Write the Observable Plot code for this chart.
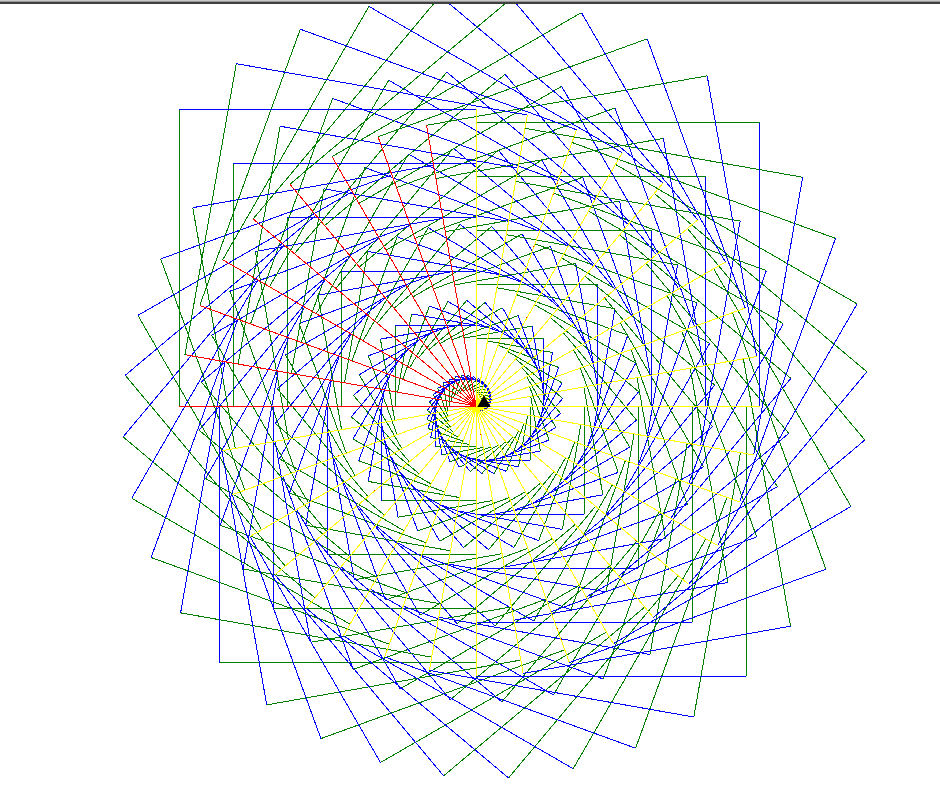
<!DOCTYPE html>
<html>
<head>
<meta charset="utf-8">
<script src="https://cdn.jsdelivr.net/npm/d3@7"></script>
<script src="https://cdn.jsdelivr.net/npm/@observablehq/plot@0.6"></script>
<style>
  html, body { margin: 0; padding: 0; background: #fff; overflow: hidden; }
  #wrap { position: relative; width: 940px; height: 793px; }
  #frame { position: absolute; left: 0; top: 0; width: 940px; height: 4px;
           background: linear-gradient(#c8c8c8 0, #c8c8c8 1px, #9a9a9a 1px, #9a9a9a 2px, #404040 2px, #404040 4px); }
  #wrap svg g[aria-label="link"] path { shape-rendering: crispEdges; }
</style>
</head>
<body>
<div id="wrap"><div id="frame"></div></div>
<script>
// Turtle program parameters
const squareCount = [199];             // squares drawn, i = 0..198
const sideStep = [1.5];                // side length grows by this per square
const turnAngle = [10];                // degrees turned left after each square
const cornerTurn = [90];               // degrees turned right at each corner
const startHeading = [0];              // degrees, east
const edgeColors = ["red", "green", "blue", "yellow"]; // colour of edge 1..4 of every square
const cursorPos = [{x: 8, y: 3}];      // turtle cursor (black arrow) near the origin

// Run the turtle: each square starts and ends at the origin
const segments = [];
let X = 0, Y = 0, h = startHeading[0];
for (let i = 0; i < squareCount[0]; i++) {
  const s = sideStep[0] * i;
  for (let e = 0; e < 4; e++) {
    const r = h * Math.PI / 180;
    const nx = X + s * Math.cos(r), ny = Y + s * Math.sin(r);
    segments.push({x1: X, y1: Y, x2: nx, y2: ny, c: edgeColors[e]});
    X = nx; Y = ny;
    h -= cornerTurn[0];
  }
  h += turnAngle[0];
}

const chart = Plot.plot({
  width: 940,
  height: 793,
  margin: 0,
  x: {domain: [-475.5, 464.5], axis: null},
  y: {domain: [-387.5, 405.5], axis: null},
  color: {type: "identity"},
  style: {background: "white"},
  marks: [
    Plot.link(segments, {x1: "x1", y1: "y1", x2: "x2", y2: "y2", stroke: "c", strokeWidth: 1}),
    Plot.dot(cursorPos, {x: "x", y: "y", symbol: "triangle", r: 5, fill: "black", stroke: "none"})
  ]
});
document.getElementById("wrap").prepend(chart);
</script>
</body>
</html>
